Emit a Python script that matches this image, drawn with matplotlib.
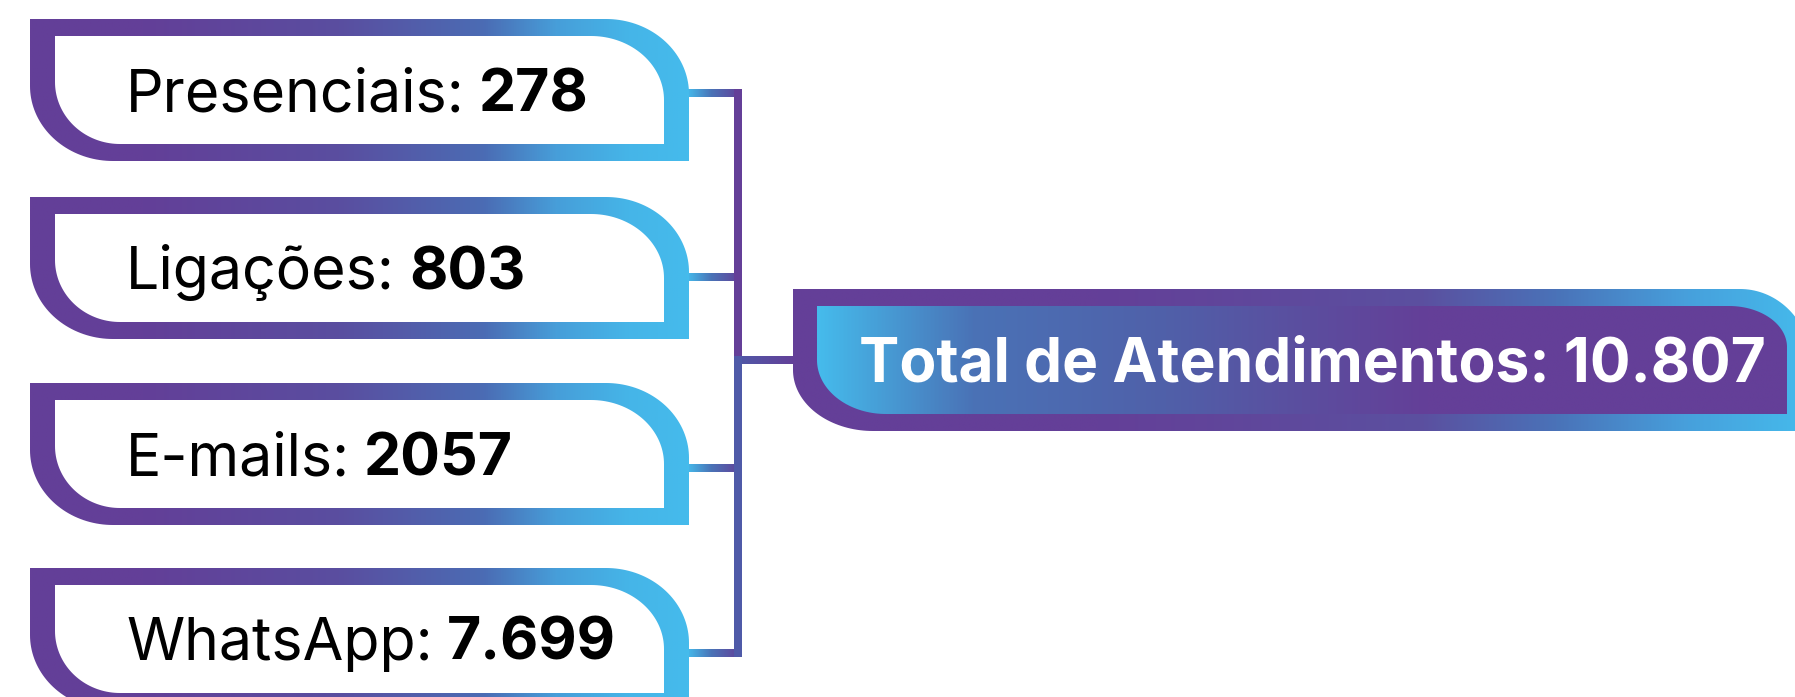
import numpy as np
import matplotlib.pyplot as plt
from matplotlib.path import Path
from matplotlib.patches import PathPatch
from matplotlib.colors import LinearSegmentedColormap

# Data shown on the chart
categories = ['Presenciais', 'Ligações', 'E-mails', 'WhatsApp']
values = ['278', '803', '2057', '7.699']
total_label = 'Total de Atendimentos'
total_value = '10.807'

# Layout (pixels)
W, H = 1795, 697
box_tops = [19, 197, 383, 568]
stub_y = [93, 277, 468, 653]
BOX_X0, BOX_X1, BOX_H = 30, 689, 142
LINE_X = 738
TOTAL = (793, 289, 1811, 431)

PURPLE = '#643f98'
BLUE = '#45bbec'
FONT = ['Inter', 'DejaVu Sans']

box_cmap = LinearSegmentedColormap.from_list('box', [
    (0, PURPLE), (0.17, '#633f98'), (0.47, '#5a4ea0'), (0.69, '#4b6cb4'),
    (0.8, '#479ed9'), (0.91, '#45b5e8'), (1, BLUE)])
total_border_cmap = LinearSegmentedColormap.from_list('tb', [
    (0, PURPLE), (0.3, PURPLE), (0.62, '#5b50a0'), (0.75, '#4a72b8'),
    (0.88, '#47a0dc'), (1, BLUE)])
total_fill_cmap = LinearSegmentedColormap.from_list('tf', [
    (0, BLUE), (0.16, '#4a72b6'), (0.36, '#5060a9'), (0.5, '#5b4e9f'),
    (0.63, PURPLE), (1, PURPLE)])
stub_cmap = LinearSegmentedColormap.from_list('stub', [
    (0, BLUE), (0.45, '#4a72b6'), (1, PURPLE)])
junction_cmap = LinearSegmentedColormap.from_list('junc', ['#4f5aa8', PURPLE])


def tab_path(x0, y0, x1, y1, rx_tr, ry_tr, rx_bl, ry_bl):
    """Box with square top-left / bottom-right and rounded top-right / bottom-left."""
    t1 = np.linspace(-np.pi / 2, 0, 40)
    cx, cy = x1 - rx_tr, y0 + ry_tr
    tr = np.column_stack([cx + rx_tr * np.cos(t1), cy + ry_tr * np.sin(t1)])
    t2 = np.linspace(np.pi / 2, np.pi, 40)
    cx, cy = x0 + rx_bl, y1 - ry_bl
    bl = np.column_stack([cx + rx_bl * np.cos(t2), cy + ry_bl * np.sin(t2)])
    pts = np.vstack([[[x0, y0]], tr, [[x1, y1]], bl, [[x0, y0]]])
    return Path(pts, closed=True)


def gradient_fill(ax, path, cmap, x0, x1, y0, y1, z):
    patch = PathPatch(path, facecolor='none', edgecolor='none')
    ax.add_patch(patch)
    grad = np.linspace(0, 1, 512).reshape(1, -1)
    im = ax.imshow(grad, cmap=cmap, extent=(x0, x1, y1, y0), aspect='auto',
                   interpolation='bilinear', zorder=z)
    im.set_clip_path(patch)


def gradient_bar(ax, x0, x1, yc, cmap, z, lw=8):
    grad = np.linspace(0, 1, 256).reshape(1, -1)
    ax.imshow(grad, cmap=cmap, extent=(x0, x1, yc + lw / 2, yc - lw / 2),
              aspect='auto', interpolation='bilinear', zorder=z)


fig = plt.figure(figsize=(W / 100, H / 100), dpi=100)
ax = fig.add_axes([0, 0, 1, 1])
ax.set_xlim(0, W)
ax.set_ylim(H, 0)
ax.set_autoscale_on(False)
ax.axis('off')

# Connector lines
for y in stub_y:
    gradient_bar(ax, BOX_X1 - 2, LINE_X + 4, y, stub_cmap, 1)
ax.add_patch(plt.Rectangle((LINE_X - 4, stub_y[0] - 4), 8, 360 - stub_y[0], color=PURPLE, zorder=2, lw=0))
ax.add_patch(plt.Rectangle((LINE_X - 4, 356), 8, stub_y[-1] + 4 - 356, color='#4f5aa8', zorder=2, lw=0))
gradient_bar(ax, LINE_X - 4, TOTAL[0] + 4, 360, junction_cmap, 1)

# Category boxes
renderer = fig.canvas.get_renderer()
to_data = ax.transData.inverted()
for top, cat, val in zip(box_tops, categories, values):
    outer = tab_path(BOX_X0, top, BOX_X1, top + BOX_H, 83, 75, 83, 75)
    inner = tab_path(BOX_X0 + 25, top + 17, BOX_X1 - 25, top + BOX_H - 17, 73, 64, 65, 62)
    gradient_fill(ax, outer, box_cmap, BOX_X0, BOX_X1, top, top + BOX_H, 3)
    ax.add_patch(PathPatch(inner, facecolor='white', edgecolor='none', zorder=4))
    base = top + 92
    t = ax.text(126, base, cat + ':', fontsize=42.5, family=FONT, color='black',
                va='baseline', ha='left', zorder=5)
    bb = t.get_window_extent(renderer)
    x_end = to_data.transform((bb.x1, bb.y0))[0]
    ax.text(x_end + 14, base, val, fontsize=42.5, family=FONT, fontweight='bold',
            color='black', va='baseline', ha='left', zorder=5)

# Total box
x0, y0, x1, y1 = TOTAL
outer = tab_path(x0, y0, x1, y1, 71, 75, 80, 61)
inner = tab_path(x0 + 24, y0 + 17, x1 - 24, y1 - 17, 58, 41, 69, 54)
gradient_fill(ax, outer, total_border_cmap, x0, x1, y0, y1, 3)
gradient_fill(ax, inner, total_fill_cmap, x0 + 24, x1 - 24, y0 + 17, y1 - 17, 4)
ax.text(859, 381, f'{total_label}: {total_value}', fontsize=43.5, family=FONT,
        fontweight='bold', color='white', va='baseline', ha='left', zorder=5)

ax.set_xlim(0, W)
ax.set_ylim(H, 0)
fig.savefig('out.png', dpi=100)
